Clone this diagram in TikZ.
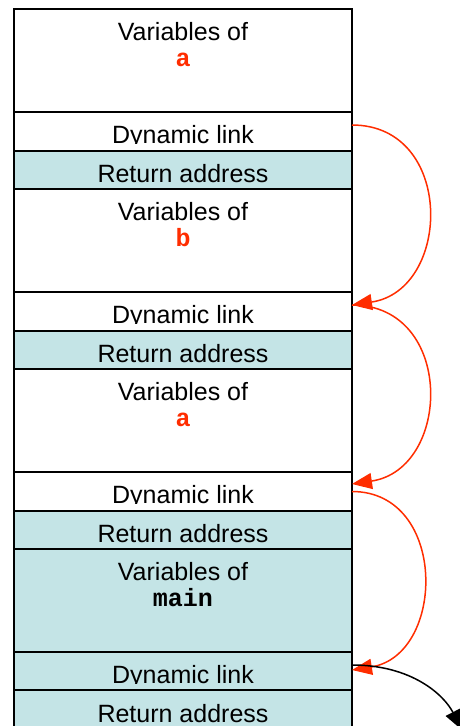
\documentclass[tikz,border=0pt]{standalone}
\usepackage{fontspec}
\setmainfont{Liberation Sans}
\newfontfamily\codefont{Liberation Mono}
\usetikzlibrary{arrows.meta}
\definecolor{cellcyan}{RGB}{196,228,230}
\definecolor{linkred}{RGB}{255,45,0}
\tikzset{
  cell/.style={draw=black, line width=1.6pt, minimum width=338pt, inner sep=0pt, outer sep=0pt},
  lbl/.style={font=\fontsize{25}{26}\selectfont, anchor=base, inner sep=0pt},
  codelbl/.style={font=\codefont\bfseries\fontsize{25}{26}\selectfont, anchor=base, inner sep=0pt},
  link/.style={draw=linkred, line width=1.5pt, -{Triangle[length=20pt,width=16pt]}},
  blacklink/.style={draw=black, line width=1.5pt, -{Triangle[length=20pt,width=16pt]}},
}
\begin{document}
\begin{tikzpicture}[x=1pt,y=-1pt]
\useasboundingbox (0,0) rectangle (459,726);
% ---------- frame 1 : a ----------
\node[cell, fill=white, minimum height=103pt] (va1) at (183,60.5) {};
\node[lbl] (tva1) at (183,40) {Variables of};
\node[codelbl, text=linkred] (cva1) at (183,66) {a};
\node[cell, fill=white, minimum height=39pt] (dl1) at (183,131.5) {};
\begin{scope}\clip (14,112) rectangle (352,143.5);
\node[lbl] (tdl1) at (183,143) {Dynamic link};
\end{scope}
\node[cell, fill=cellcyan, minimum height=38pt] (ra1) at (183,170) {};
\node[lbl] (tra1) at (183,182) {Return address};
% ---------- frame 2 : b ----------
\node[cell, fill=white, minimum height=103pt] (vb) at (183,240.5) {};
\node[lbl] (tvb) at (183,220) {Variables of};
\node[codelbl, text=linkred] (cvb) at (183,246) {b};
\node[cell, fill=white, minimum height=39pt] (dl2) at (183,311.5) {};
\begin{scope}\clip (14,292) rectangle (352,323.5);
\node[lbl] (tdl2) at (183,323) {Dynamic link};
\end{scope}
\node[cell, fill=cellcyan, minimum height=38pt] (ra2) at (183,350) {};
\node[lbl] (tra2) at (183,362) {Return address};
% ---------- frame 3 : a ----------
\node[cell, fill=white, minimum height=103pt] (va3) at (183,420.5) {};
\node[lbl] (tva3) at (183,400) {Variables of};
\node[codelbl, text=linkred] (cva3) at (183,426) {a};
\node[cell, fill=white, minimum height=39pt] (dl3) at (183,491.5) {};
\begin{scope}\clip (14,472) rectangle (352,503.5);
\node[lbl] (tdl3) at (183,503) {Dynamic link};
\end{scope}
\node[cell, fill=cellcyan, minimum height=38pt] (ra3) at (183,530) {};
\node[lbl] (tra3) at (183,542) {Return address};
% ---------- frame 4 : main ----------
\node[cell, fill=cellcyan, minimum height=103pt] (vm) at (183,600.5) {};
\node[lbl] (tvm) at (183,580) {Variables of};
\node[codelbl, text=black] (cvm) at (183,606) {main};
\node[cell, fill=cellcyan, minimum height=39pt] (dl4) at (183,671.5) {};
\begin{scope}\clip (14,652) rectangle (352,683.5);
\node[lbl] (tdl4) at (183,683) {Dynamic link};
\end{scope}
\node[cell, fill=cellcyan, minimum height=50pt] (ra4) at (183,715) {};
\node[lbl] (tra4) at (183,722) {Return address};
% ---------- dynamic links ----------
\draw[link] ([yshift=6.5pt]dl1.east) .. controls +(103,0) and +(100,-15) .. ([yshift=6.5pt]dl2.east);
\draw[link] ([yshift=6.5pt]dl2.east) .. controls +(103,0) and +(100,-15) .. ([yshift=7.5pt]dl3.east);
\draw[link] (dl3.east) .. controls +(96,0) and +(94,-15) .. ([yshift=1.5pt]dl4.east);
\coordinate (beyond) at (462,730);
\draw[blacklink] ([yshift=6.5pt]dl4.east) .. controls +(60,0) and +(-18,-35) .. (beyond);
\end{tikzpicture}
\end{document}
